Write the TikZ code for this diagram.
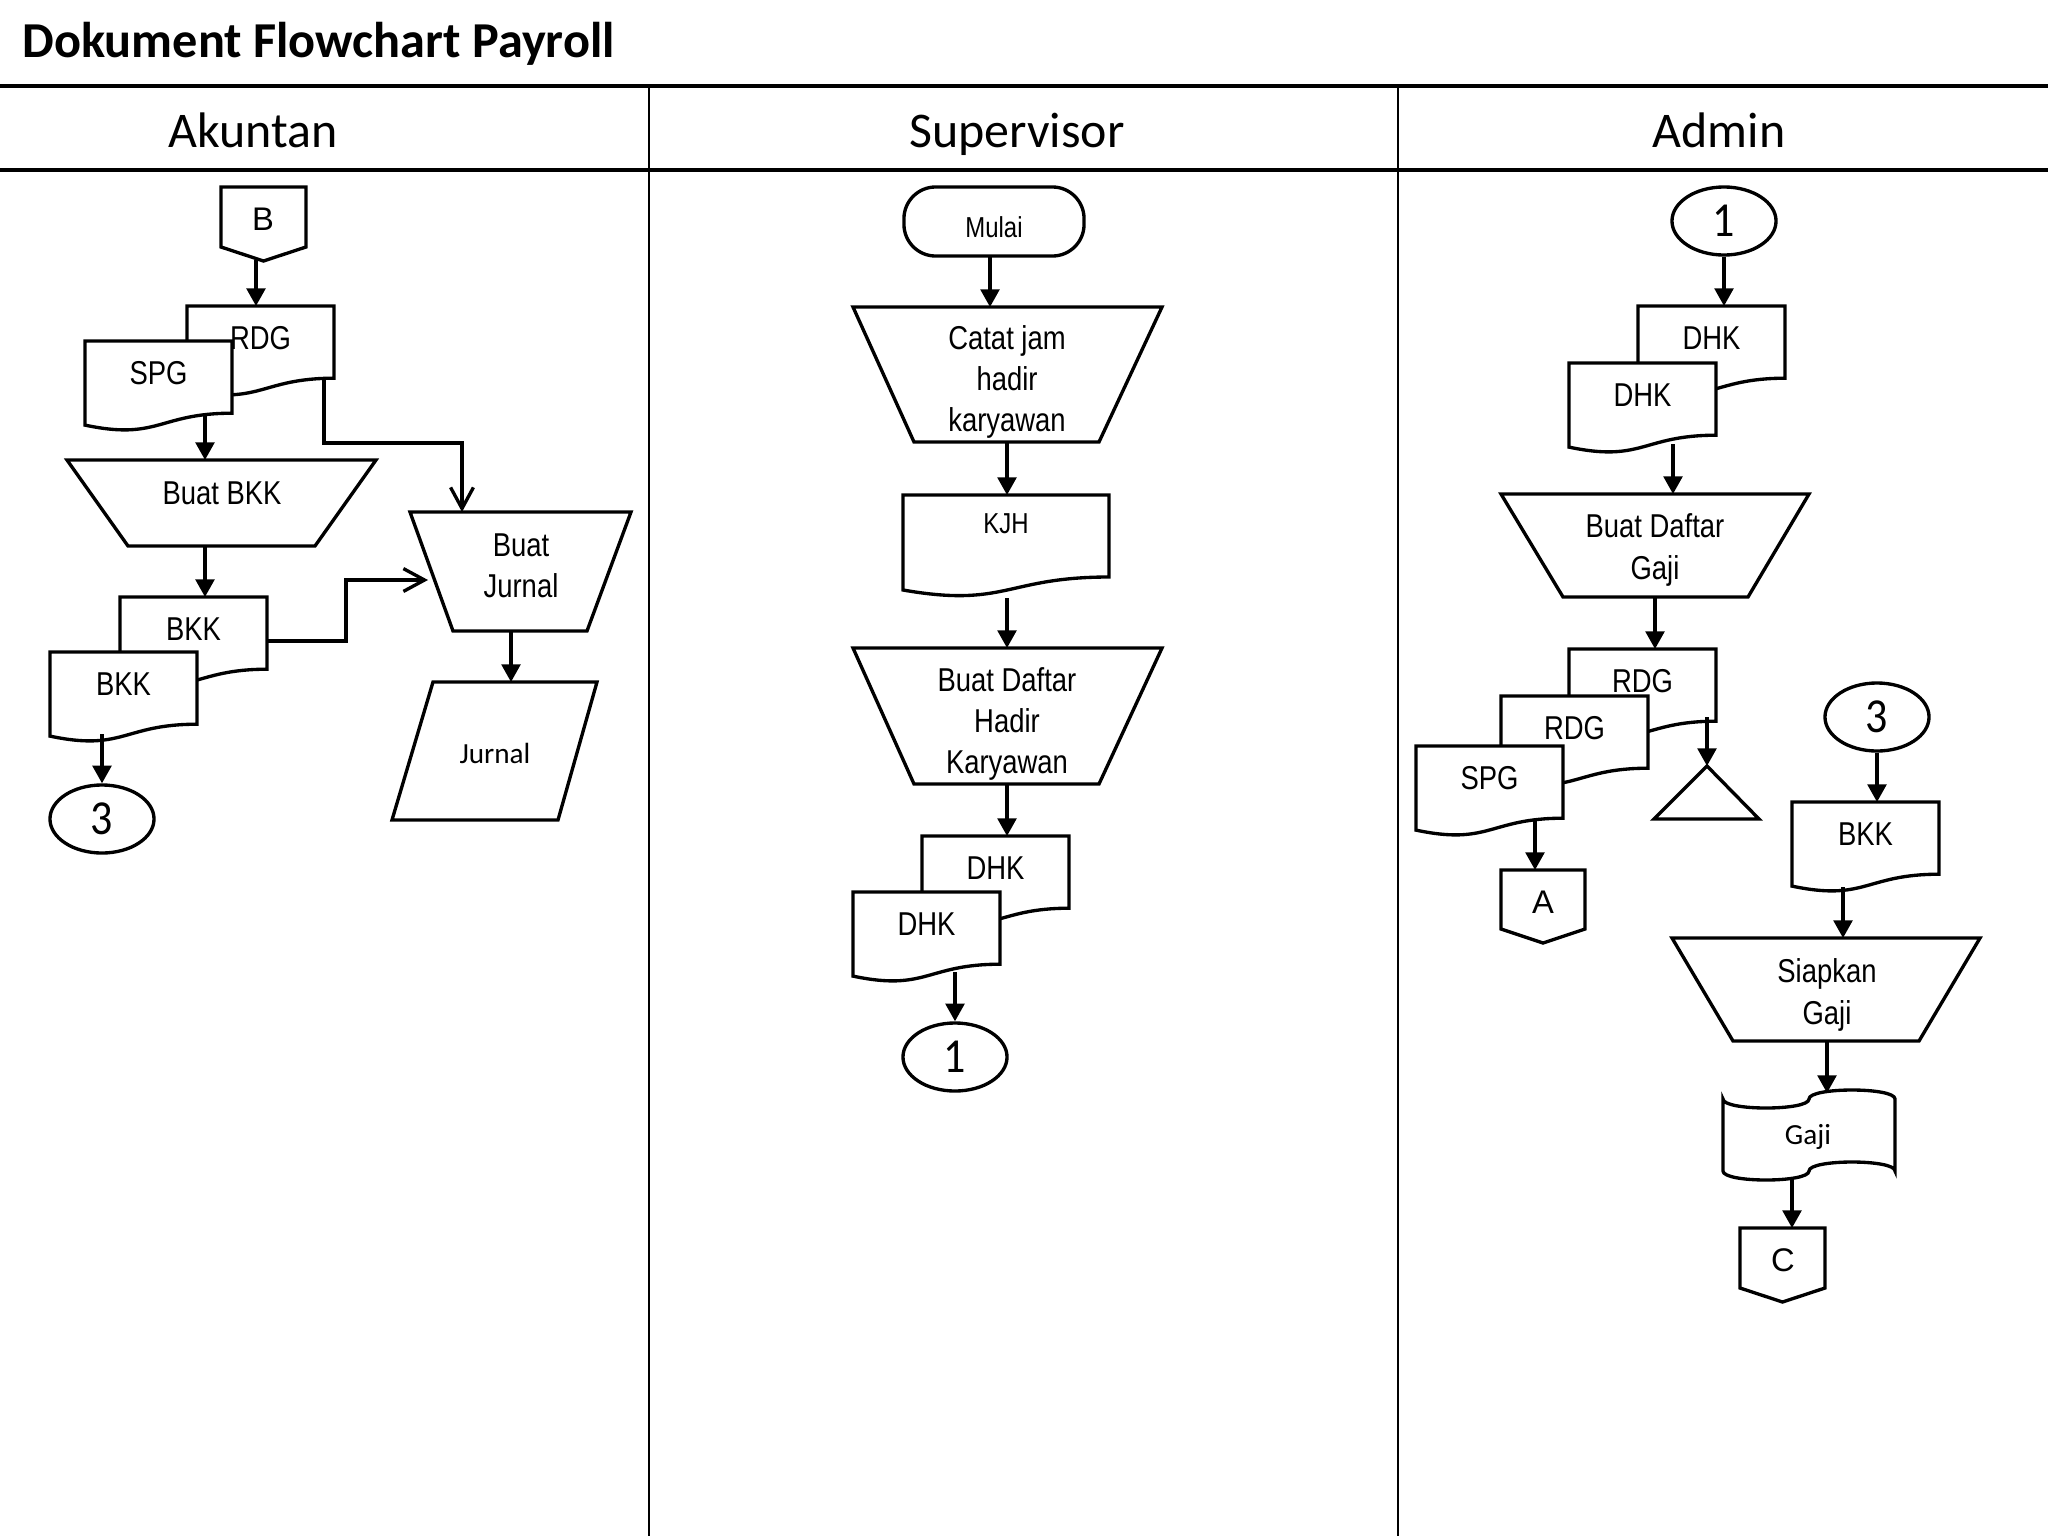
\documentclass[tikz,border=0pt]{standalone}
\usepackage{fontspec}
\setmainfont{Liberation Sans}
\newfontfamily\arl{Liberation Sans}[FakeStretch=0.83]
\newfontfamily\calfont{Carlito}
\newfontfamily\calst{Carlito}[FakeStretch=0.9]
\usetikzlibrary{arrows.meta,shapes.geometric}

\newcommand\docshp[4]{%
  \pgfmathsetmacro\dxa{#2}\pgfmathsetmacro\dxb{#2+147}\pgfmathsetmacro\dxm{#2+73.5}%
  \pgfmathsetmacro\dya{#3}\pgfmathsetmacro\dyb{#3+72.2}\pgfmathsetmacro\dyc{#3+99.7}\pgfmathsetmacro\dyd{#3+84.1}\pgfmathsetmacro\dyt{#3+32}%
  \draw[shp] (\dxa,\dya) -- (\dxb,\dya) -- (\dxb,\dyb) .. controls (\dxm,\dyb) and (\dxm,\dyc) .. (\dxa,\dyd) -- cycle;
  \node[lbl] (#1) at (\dxm,\dyt) {#4};}

\newcommand\trapz[6]{% topy boty tx1 tx2 bx1 bx2
  \draw[shp] (#3,#1) -- (#4,#1) -- (#6,#2) -- (#5,#2) -- cycle;}

\newcommand\offpg[4]{% x1 x2 ytop yside ; point
  \pgfmathsetmacro\oxm{(#1+#2)/2}\pgfmathsetmacro\oyp{#4+14}%
  \draw[shp] (#1,#3) -- (#2,#3) -- (#2,#4) -- (\oxm,\oyp) -- (#1,#4) -- cycle;}

\begin{document}
\begin{tikzpicture}[x=0.01cm,y=-0.01cm,line join=miter,
  shp/.style={draw=black,line width=0.95pt,fill=white},
  arr/.style={line width=0.95pt,-{Triangle[length=5pt,width=5.3pt]}},
  oarr/.style={line width=0.95pt,-{Straight Barb[length=6pt,width=6.5pt]}},
  lbl/.style={inner sep=0pt,font=\arl\fontsize{9.4}{11.7}\selectfont,align=center},
  small/.style={inner sep=0pt,font=\arl\fontsize{8.2}{9}\selectfont},
  calb/.style={inner sep=0pt,font=\calfont\fontsize{8.3}{10}\selectfont},
  conn/.style={shp,ellipse,minimum width=1.04cm,minimum height=0.68cm,inner sep=0pt,font=\calst\fontsize{13.9}{14}\selectfont},
  letter/.style={inner sep=0pt,font=\fontsize{9.3}{11}\selectfont},
  lane/.style={line width=1pt},
  vlane/.style={line width=0.7pt}]
\useasboundingbox (0,0) rectangle (2048,1536);

% title and swimlanes
\node[anchor=base west,inner sep=0pt,font=\calfont\bfseries\fontsize{14.3}{16}\selectfont] (title) at (22,57) {Dokument Flowchart Payroll};
\draw[lane] (0,86) -- (2048,86);
\draw[lane] (0,170) -- (2048,170);
\draw[vlane] (649,86) -- (649,1536);
\draw[vlane] (1398,86) -- (1398,1536);
\node[anchor=base,inner sep=0pt,font=\calfont\fontsize{14.2}{16}\selectfont] (hA) at (253,147) {Akuntan};
\node[anchor=base,inner sep=0pt,font=\calfont\fontsize{14.2}{16}\selectfont] (hS) at (1017,147) {Supervisor};
\node[anchor=base,inner sep=0pt,font=\calfont\fontsize{14.2}{16}\selectfont] (hD) at (1719,147) {Admin};

% ================= Akuntan =================
\offpg{221}{306}{187}{247}
\node[letter] (nB) at (263,219) {B};
\docshp{rdgA}{187}{306}{RDG}
\docshp{spgA}{85}{341}{SPG}
\trapz{460}{546}{67}{376}{128}{315}
\node[lbl] (bbkk) at (222,493) {Buat BKK};
\trapz{512}{631}{410}{631}{453}{587}
\node[lbl] (bjur) at (521,566) {Buat\\Jurnal};
\docshp{bkkA1}{120}{597}{BKK}
\docshp{bkkA2}{50}{652}{BKK}
\node[conn] (c3a) at (102,819) {3};
\draw[shp] (433,682) -- (597,682) -- (558,820) -- (392,820) -- cycle;
\node[calb] (jur) at (495,753) {Jurnal};

\coordinate (pB) at (256,260);   \coordinate (pRDGin) at (256,306);
\coordinate (pSPGo) at (205,413); \coordinate (pBBKKi) at (205,460);
\coordinate (pRDGo) at (324,377); \coordinate (pJ1) at (324,443); \coordinate (pJ2) at (462,443); \coordinate (pBJi) at (462,512);
\coordinate (pBBKKo) at (205,546); \coordinate (pBKKi) at (205,597);
\coordinate (pBKKo) at (266,641); \coordinate (pK1) at (346,641); \coordinate (pK2) at (346,580); \coordinate (pBJl) at (428,580);
\coordinate (pBKK2o) at (102,734);
\coordinate (pBJo) at (511,631); \coordinate (pJURi) at (511,682);

\draw[arr] (pB) -- (pRDGin);
\draw[arr] (pSPGo) -- (pBBKKi);
\draw[oarr] (pRDGo) -- (pJ1) -- (pJ2) -- (pBJi);
\draw[arr] (pBBKKo) -- (pBKKi);
\draw[oarr] (pBKKo) -- (pK1) -- (pK2) -- (pBJl);
\draw[arr] (pBKK2o) -- (c3a.north);
\draw[arr] (pBJo) -- (pJURi);

% ================= Supervisor =================
\node[shp,rectangle,rounded corners=9pt,minimum width=1.8cm,minimum height=0.69cm,inner sep=0pt] (mulai) at (994,221.5) {};
\node[small] (mulaiT) at (994,227) {Mulai};
\trapz{307}{442}{853}{1162}{914}{1099}
\node[lbl] (catat) at (1007,382) {Catat jam\\hadir\\karyawan};
\draw[shp] (903,495) -- (1109,495) -- (1109,577) .. controls (1006,577) and (1006,608) .. (903,590) -- cycle;
\node[small] (kjh) at (1006,524) {KJH};
\trapz{648}{784}{853}{1162}{914}{1099}
\node[lbl] (bdhk) at (1007,724) {Buat Daftar\\Hadir\\Karyawan};
\docshp{dhkS1}{922}{836}{DHK}
\docshp{dhkS2}{853}{892}{DHK}
\node[conn] (c1s) at (955,1057) {1};

\coordinate (pMo) at (990,256);  \coordinate (pCi) at (990,307);
\coordinate (pCo) at (1007,442); \coordinate (pKJHi) at (1007,495);
\coordinate (pKJHo) at (1007,598); \coordinate (pBDHi) at (1007,648);
\coordinate (pBDHo) at (1007,784); \coordinate (pDHKi) at (1007,836);
\coordinate (pDHK2o) at (955,972);

\draw[arr] (pMo) -- (pCi);
\draw[arr] (pCo) -- (pKJHi);
\draw[arr] (pKJHo) -- (pBDHi);
\draw[arr] (pBDHo) -- (pDHKi);
\draw[arr] (pDHK2o) -- (c1s.north);

% ================= Admin =================
\node[conn] (c1a) at (1724,221) {1};
\docshp{dhkD1}{1638}{306}{DHK}
\docshp{dhkD2}{1569}{363}{DHK}
\trapz{494}{597}{1501}{1809}{1563}{1748}
\node[lbl] (bdg) at (1655,550) {Buat Daftar\\Gaji};
\docshp{rdgD1}{1569}{649}{RDG}
\docshp{rdgD2}{1501}{696}{RDG}
\docshp{spgD}{1416}{746}{SPG}
\draw[shp] (1707,766) -- (1759,819) -- (1654,819) -- cycle;
\offpg{1501}{1585}{870}{929}
\node[letter] (nA) at (1543,902) {A};
\node[conn] (c3d) at (1877,717) {3};
\docshp{bkkD}{1792}{802}{BKK}
\trapz{938}{1041}{1672}{1980}{1733}{1919}
\node[lbl] (siap) at (1827,995) {Siapkan\\Gaji};
\draw[shp] (1723,1099) .. controls (1723,1111) and (1809,1111) .. (1809,1099)
  .. controls (1809,1087) and (1895,1087) .. (1895,1099) -- (1895,1171)
  .. controls (1895,1159) and (1809,1159) .. (1809,1171)
  .. controls (1809,1183) and (1723,1183) .. (1723,1171) -- cycle;
\node[calb] (gaji) at (1808,1137) {Gaji};
\offpg{1740}{1825}{1228}{1288}
\node[letter] (nC) at (1783,1260) {C};

\coordinate (pDHKDi) at (1724,306);
\coordinate (pDHKD2o) at (1673,444); \coordinate (pBDGi) at (1673,494);
\coordinate (pBDGo) at (1655,597); \coordinate (pRDGDi) at (1655,649);
\coordinate (pRDGDo) at (1707,717); \coordinate (pTri) at (1707,766);
\coordinate (pSPGDo) at (1535,819); \coordinate (pAi) at (1535,870);
\coordinate (pBKKDi) at (1877,802);
\coordinate (pBKKDo) at (1843,887); \coordinate (pSGi) at (1843,938);
\coordinate (pSGo) at (1827,1041); \coordinate (pGi) at (1827,1093);
\coordinate (pGo) at (1792,1178); \coordinate (pCi2) at (1792,1228);

\draw[arr] (c1a.south) -- (pDHKDi);
\draw[arr] (pDHKD2o) -- (pBDGi);
\draw[arr] (pBDGo) -- (pRDGDi);
\draw[arr] (pRDGDo) -- (pTri);
\draw[arr] (pSPGDo) -- (pAi);
\draw[arr] (c3d.south) -- (pBKKDi);
\draw[arr] (pBKKDo) -- (pSGi);
\draw[arr] (pSGo) -- (pGi);
\draw[arr] (pGo) -- (pCi2);
\end{tikzpicture}
\end{document}
